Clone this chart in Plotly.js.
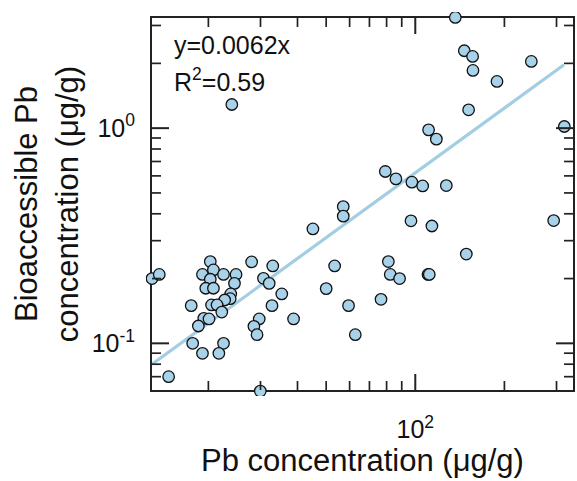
<!DOCTYPE html>
<html>
<head>
<meta charset="utf-8">
<script src="https://cdn.plot.ly/plotly-3.0.1.min.js"></script>
<style>html,body{margin:0;padding:0;background:#fff;}#wrap{position:relative;width:577px;height:481px;}#chart{width:577px;height:481px;}#ticks{position:absolute;left:0;top:0;pointer-events:none;}</style>
</head>
<body>
<div id="wrap"><div id="chart"></div><svg id="ticks" width="577" height="481" xmlns="http://www.w3.org/2000/svg"></svg></div>
<script>
// Total Pb concentration (µg/g)
const pbTotal = [136.5, 146.4, 156.2, 156.6, 188.8, 246.6, 151.4, 24.0, 318.7, 110.9,
  117.8, 79.2, 86.0, 97.4, 105.9, 127.3, 57.1, 57.1, 45.1, 96.7,
  113.8, 293.4, 148.7, 81.1, 82.3, 88.5, 110.4, 111.5, 53.4, 50.0,
  59.5, 76.6, 62.7, 12.9, 13.65, 14.68, 29.95, 28.0, 33.0, 30.7,
  32.1, 35.4, 32.8, 38.8, 29.7, 28.5, 29.2, 20.3, 20.8, 19.1,
  22.5, 24.8, 20.3, 19.6, 20.8, 24.5, 23.8, 23.7, 22.7, 20.5,
  21.4, 22.2, 17.5, 19.3, 20.1, 18.5, 17.7, 22.5, 19.1, 21.7];
// Bioaccessible Pb concentration (µg/g)
const pbBio = [3.27, 2.289, 2.154, 1.854, 1.649, 2.042, 1.217, 1.288, 1.018, 0.982,
  0.889, 0.629, 0.581, 0.561, 0.539, 0.541, 0.432, 0.390, 0.340, 0.371,
  0.351, 0.372, 0.260, 0.240, 0.209, 0.200, 0.209, 0.209, 0.229, 0.1796,
  0.1497, 0.1602, 0.1097, 0.200, 0.209, 0.070, 0.060, 0.239, 0.229, 0.2006,
  0.190, 0.1696, 0.1497, 0.1298, 0.1298, 0.120, 0.1097, 0.240, 0.2194, 0.209,
  0.209, 0.209, 0.1985, 0.1803, 0.1803, 0.190, 0.1696, 0.1613, 0.159, 0.1508,
  0.1508, 0.1398, 0.1497, 0.1307, 0.1298, 0.1204, 0.100, 0.100, 0.0899, 0.0899];
// Fit line y = 0.0062x, end points
const fitX = [12.9, 318];
const fitY = [0.080, 1.97];
const xTickVals = [100];
const xTickText = ['10<sup>2</sup>'];
const xMinorVals = [20, 30, 40, 50, 60, 70, 80, 90, 200, 300];
const yTickVals = [0.1, 1];
const yTickText = ['10<sup>-1</sup>', '10<sup>0</sup>'];
const yMinorVals = [0.07, 0.08, 0.09, 0.2, 0.3, 0.4, 0.5, 0.6, 0.7, 0.8, 0.9, 2, 3];
const eqText = 'y=0.0062x';
const r2Text = 'R<sup>2</sup>=0.59';

const FONT = 'Liberation Sans, Arial, sans-serif';
const INK = '#222';

// Frame geometry (pixels) and log ranges of the framed axes
const W = 577, H = 481;
const ML = 146, MR = 0, MT = 12, MB = 85;           // outer (marker) plotting area
const boxL = 152, boxR = 573, boxT = 18, boxB = 390; // drawn axis box
const XR = [Math.log10(12.9), Math.log10(341)];
const YR = [Math.log10(0.0607), Math.log10(3.25)];
const areaW = W - ML - MR, areaH = H - MT - MB;
const xDom = [(boxL - ML) / areaW, (boxR - ML) / areaW];
const yDom = [(H - MB - boxB) / areaH, (H - MB - boxT) / areaH];
const xPerPx = (XR[1] - XR[0]) / (boxR - boxL);
const yPerPx = (YR[1] - YR[0]) / (boxB - boxT);
const XR2 = [XR[0] - (boxL - ML) * xPerPx, XR[1] + (W - MR - boxR) * xPerPx];
const YR2 = [YR[0] - (H - MB - boxB) * yPerPx, YR[1] + (boxT - MT) * yPerPx];

const traces = [
  {x: fitX, y: fitY, type: 'scatter', mode: 'lines', xaxis: 'x', yaxis: 'y',
   line: {color: '#a3cde3', width: 3.2}, hoverinfo: 'skip', showlegend: false},
  {x: pbTotal, y: pbBio, type: 'scatter', mode: 'markers', xaxis: 'x2', yaxis: 'y2',
   marker: {size: 11.5, color: '#a8d2e9', line: {color: '#111', width: 1.3}},
   showlegend: false}
];

const base = {
  type: 'log', showgrid: false, zeroline: false,
  showline: true, linecolor: INK, linewidth: 2, mirror: true,
  ticks: '', tickmode: 'array',
  tickfont: {family: FONT, size: 25, color: '#111'}
};

const layout = {
  width: W, height: H,
  margin: {l: ML, r: MR, t: MT, b: MB},
  paper_bgcolor: '#fff', plot_bgcolor: 'rgba(0,0,0,0)',
  showlegend: false,
  xaxis: Object.assign({}, base, {
    domain: xDom, anchor: 'y',
    range: XR, tickvals: xTickVals, ticktext: xTickText,
    ticklabelstandoff: 16,
    title: {text: 'Pb concentration (μg/g)', font: {family: FONT, size: 31, color: '#111'}, standoff: 2}
  }),
  yaxis: Object.assign({}, base, {
    domain: yDom, anchor: 'x',
    range: YR, tickvals: yTickVals, ticktext: yTickText,
    ticklabelstandoff: 10,
    title: {text: 'Bioaccessible Pb<br>concentration (μg/g)', font: {family: FONT, size: 31, color: '#111'}, standoff: 4}
  }),
  xaxis2: {type: 'log', domain: [0, 1], range: XR2, anchor: 'y2', visible: false},
  yaxis2: {type: 'log', domain: [0, 1], range: YR2, anchor: 'x2', visible: false},
  annotations: [
    {xref: 'x domain', yref: 'y domain', x: 0.048, y: 0.928, xanchor: 'left', yanchor: 'middle',
     text: eqText, showarrow: false, font: {family: FONT, size: 25, color: '#111'}},
    {xref: 'x domain', yref: 'y domain', x: 0.048, y: 0.833, xanchor: 'left', yanchor: 'middle',
     text: r2Text, showarrow: false, font: {family: FONT, size: 25, color: '#111'}}
  ]
};

// Inward tick marks on all four sides, positioned with Plotly's own axis scales
function drawTicks(gd) {
  const xa = gd._fullLayout.xaxis, ya = gd._fullLayout.yaxis;
  const svg = document.getElementById('ticks');
  const NS = 'http://www.w3.org/2000/svg';
  const x0 = xa._offset, x1 = xa._offset + xa._length;
  const y0 = ya._offset + ya._length, y1 = ya._offset;
  function seg(ax1, ay1, ax2, ay2, w) {
    const l = document.createElementNS(NS, 'line');
    l.setAttribute('x1', ax1); l.setAttribute('y1', ay1);
    l.setAttribute('x2', ax2); l.setAttribute('y2', ay2);
    l.setAttribute('stroke', INK); l.setAttribute('stroke-width', w);
    svg.appendChild(l);
  }
  function xt(v, len, w) {
    const p = xa._offset + xa.l2p(Math.log10(v));
    seg(p, y0, p, y0 - len, w);
    seg(p, y1, p, y1 + len, w);
  }
  function yt(v, len, w) {
    const p = ya._offset + ya.l2p(Math.log10(v));
    seg(x0, p, x0 + len, p, w);
    seg(x1, p, x1 - len, p, w);
  }
  xMinorVals.forEach(function(v) { xt(v, 9, 1.7); });
  xTickVals.forEach(function(v) { xt(v, 16, 2); });
  yMinorVals.forEach(function(v) { yt(v, 9, 1.7); });
  yTickVals.forEach(function(v) { yt(v, 17, 2); });
}

Plotly.newPlot('chart', traces, layout, {displayModeBar: false}).then(drawTicks);
</script>
</body>
</html>
